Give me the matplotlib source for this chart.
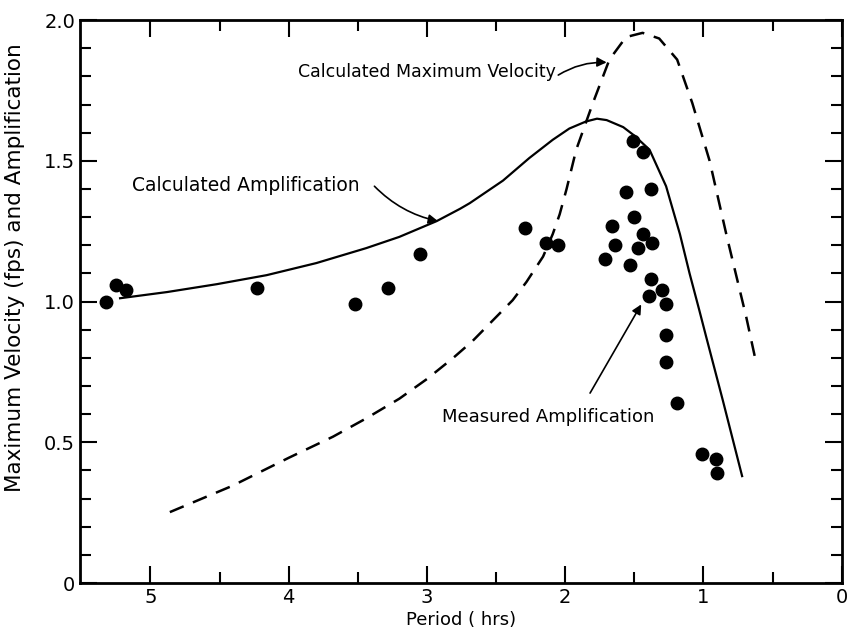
import numpy as np
import matplotlib
matplotlib.use("Agg")
import matplotlib.pyplot as plt

# measured amplification points (period hrs, amplification)
meas_period = [5.32, 5.25, 5.18, 4.23, 3.52, 3.28, 3.05, 2.29, 2.14, 2.05,
               1.51, 1.44, 1.56, 1.38, 1.50, 1.66, 1.64, 1.44, 1.37, 1.47,
               1.71, 1.53, 1.38, 1.30, 1.39, 1.27, 1.27, 1.27, 1.19, 1.01,
               0.91, 0.90]
meas_amp = [1.00, 1.06, 1.04, 1.05, 0.99, 1.05, 1.17, 1.26, 1.21, 1.20,
            1.57, 1.53, 1.39, 1.40, 1.30, 1.27, 1.20, 1.24, 1.21, 1.19,
            1.15, 1.13, 1.08, 1.04, 1.02, 0.99, 0.88, 0.785, 0.64, 0.46,
            0.44, 0.39]

# calculated amplification (solid)
amp_period = [5.22, 4.88, 4.52, 4.16, 3.80, 3.44, 3.20, 2.93, 2.76, 2.69,
              2.45, 2.26, 2.09, 1.97, 1.85, 1.77, 1.70, 1.58, 1.50, 1.39,
              1.27, 1.17, 1.10, 1.03, 0.98, 0.86, 0.72]
amp_value = [1.012, 1.034, 1.062, 1.094, 1.137, 1.19, 1.23, 1.286, 1.33, 1.35,
             1.43, 1.51, 1.575, 1.615, 1.64, 1.65, 1.645, 1.62, 1.59, 1.54,
             1.41, 1.24, 1.10, 0.97, 0.875, 0.65, 0.38]

# calculated maximum velocity (dashed)
vel_period = [4.86, 4.41, 4.00, 3.68, 3.44, 3.20, 3.00, 2.81, 2.67, 2.53,
              2.38, 2.28, 2.16, 2.09, 2.04, 1.99, 1.92, 1.80, 1.68,
              1.56, 1.44, 1.32, 1.19, 1.08, 0.955, 0.83, 0.69, 0.615]
vel_value = [0.252, 0.345, 0.445, 0.52, 0.585, 0.655, 0.725, 0.80, 0.86, 0.93,
             1.005, 1.07, 1.16, 1.24, 1.31, 1.40, 1.54, 1.705, 1.86,
             1.94, 1.955, 1.935, 1.86, 1.705, 1.50, 1.23, 0.945, 0.775]

fig = plt.figure(figsize=(8.51, 6.31), dpi=100)
ax = fig.add_axes([0.094, 0.076, 0.895, 0.892])

ax.plot(amp_period, amp_value, color="black", lw=1.6)
ax.plot(vel_period, vel_value, color="black", lw=1.8, dashes=(6, 4))
ax.plot(meas_period, meas_amp, "o", color="black", ms=9)

ax.set_xlim(5.51, 0)
ax.set_ylim(0, 2.0)
ax.set_xticks([5, 4, 3, 2, 1, 0])
ax.set_xticklabels(["5", "4", "3", "2", "1", "0"])
ax.set_xticks(np.arange(0.5, 5.5, 1.0), minor=True)
ax.set_yticks([0, 0.5, 1.0, 1.5, 2.0])
ax.set_yticklabels(["0", "0.5", "1.0", "1.5", "2.0"])
ax.set_yticks(np.arange(0.1, 2.0, 0.1), minor=True)
ax.tick_params(which="both", direction="in", top=True, right=True,
               labelsize=14, width=1.5)
ax.tick_params(which="major", length=12)
ax.tick_params(which="minor", length=8)
for s in ax.spines.values():
    s.set_linewidth(2)

ax.set_xlabel("Period ( hrs)", fontsize=13, labelpad=3)
ax.set_ylabel("Maximum Velocity (fps) and Amplification", fontsize=15.5)
ax.yaxis.set_label_coords(-0.072, 0.56)

# labels and their arrows
arrow = dict(arrowstyle="-|>", color="black", lw=1.2, mutation_scale=14,
             shrinkA=0, shrinkB=0)
ax.text(3.0, 1.815, "Calculated Maximum Velocity", fontsize=12.5,
        ha="center", va="center")
ax.annotate("", xy=(1.70, 1.85), xytext=(2.05, 1.805),
            arrowprops=dict(arrow, connectionstyle="arc3,rad=-0.15"))

ax.text(4.31, 1.414, "Calculated Amplification", fontsize=13.5,
        ha="center", va="center")
ax.annotate("", xy=(2.92, 1.286), xytext=(3.38, 1.41),
            arrowprops=dict(arrow, connectionstyle="arc3,rad=0.15"))

ax.text(2.12, 0.59, "Measured Amplification", fontsize=13,
        ha="center", va="center")
ax.annotate("", xy=(1.45, 0.99), xytext=(1.82, 0.675),
            arrowprops=dict(arrow, connectionstyle="arc3,rad=0"))

fig.savefig("out.png", dpi=100)
